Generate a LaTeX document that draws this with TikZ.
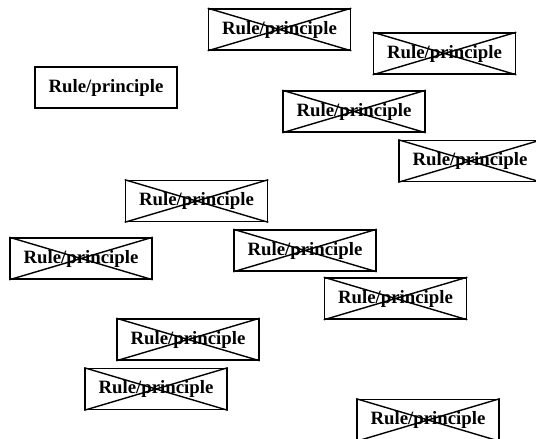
\documentclass[tikz,border=0pt]{standalone}
\usepackage{fontspec}
\setmainfont{Liberation Serif}
\begin{document}
\begin{tikzpicture}[x=1pt,y=-1pt,
  rulebox/.style={draw, line width=1.6pt, minimum width=142pt, minimum height=41pt, inner sep=0pt, font=\fontsize{18.8}{20}\selectfont\bfseries},
  crossline/.style={line width=1.4pt}]
\useasboundingbox (0,0) rectangle (536,439);
\clip (0,0) rectangle (536,439);
\newcommand\crossbox[3]{%
  \node[rulebox] (#1) at (#2) {Rule/principle};
  \draw[crossline] (#1.north west) -- (#1.south east) (#1.south west) -- (#1.north east);}
\node[rulebox] (plain) at (106,87.5) {Rule/principle};
\crossbox{b1}{279.5,29.5}{}
\crossbox{b3}{444.5,53.5}{}
\crossbox{b4}{354,111.5}{}
\crossbox{b5}{470,161}{}
\crossbox{b6}{196.5,201}{}
\crossbox{b7}{81,258.5}{}
\crossbox{b8}{305,250.5}{}
\crossbox{b9}{395.5,298.5}{}
\crossbox{b10}{188,339.5}{}
\crossbox{b11}{156,389}{}
\crossbox{b12}{428,420}{}
\end{tikzpicture}
\end{document}
